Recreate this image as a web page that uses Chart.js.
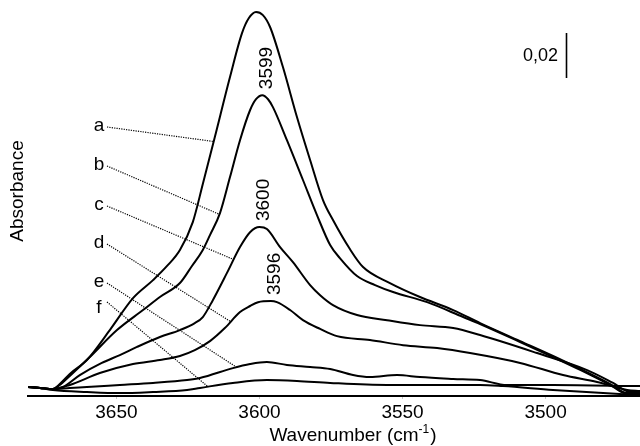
<!DOCTYPE html>
<html>
<head>
<meta charset="utf-8">
<title>OH stretching region</title>
<script src="https://cdn.jsdelivr.net/npm/chart.js@4.4.0/dist/chart.umd.min.js"></script>
<style>
  html, body { margin: 0; padding: 0; background: #fff; }
  #wrap { width: 640px; height: 446px; position: relative; }
</style>
</head>
<body>
<div id="wrap"><canvas id="spectra"></canvas></div>
<script>
// Wavenumber axis ticks (cm-1)
const xTicks = [3650, 3600, 3550, 3500];

// Spectra a-f: wavenumber (cm-1) and absorbance
const wnA  = [3680.9, 3676.7, 3672.2, 3669.8, 3666.3, 3660.3, 3652.3, 3644.2, 3637.2, 3632.3, 3627.8, 3623.3, 3619.8, 3615.6, 3610.3, 3606.1, 3603.7, 3601.2, 3598.8, 3596.3, 3591.8, 3586.9, 3582.3, 3577.8, 3574.3, 3568.4, 3563.8, 3554.4, 3543.9, 3532.3, 3522.9, 3508.9, 3497.4, 3487.9, 3477.4, 3471.5, 3467.0];
const absA = [0.0040, 0.0036, 0.0031, 0.0053, 0.0098, 0.0160, 0.0293, 0.0435, 0.0515, 0.0578, 0.0649, 0.0773, 0.0942, 0.1151, 0.1418, 0.1613, 0.1680, 0.1707, 0.1693, 0.1640, 0.1462, 0.1240, 0.1049, 0.0871, 0.0782, 0.0653, 0.0573, 0.0502, 0.0440, 0.0382, 0.0324, 0.0244, 0.0178, 0.0120, 0.0053, 0.0013, 0.0013];

const wnB  = [3680.9, 3676.7, 3672.2, 3669.8, 3666.3, 3659.3, 3649.8, 3640.7, 3634.8, 3627.8, 3623.6, 3619.8, 3617.3, 3613.8, 3610.3, 3606.8, 3603.3, 3601.2, 3599.0, 3597.0, 3595.3, 3590.4, 3584.8, 3579.9, 3575.3, 3571.9, 3565.9, 3559.6, 3553.3, 3541.4, 3528.8, 3522.9, 3508.9, 3497.4, 3487.9, 3477.4, 3471.5, 3467.0];
const absB = [0.0040, 0.0036, 0.0031, 0.0049, 0.0089, 0.0173, 0.0293, 0.0382, 0.0440, 0.0502, 0.0578, 0.0649, 0.0715, 0.0813, 0.0973, 0.1137, 0.1270, 0.1319, 0.1337, 0.1319, 0.1284, 0.1137, 0.0960, 0.0804, 0.0671, 0.0613, 0.0533, 0.0493, 0.0462, 0.0417, 0.0351, 0.0320, 0.0240, 0.0173, 0.0116, 0.0049, 0.0009, 0.0009];

const wnC  = [3680.9, 3676.7, 3672.2, 3668.7, 3662.8, 3655.1, 3648.8, 3642.8, 3634.8, 3627.8, 3622.6, 3619.8, 3616.3, 3611.4, 3606.8, 3603.3, 3600.0, 3597.4, 3592.8, 3588.3, 3582.3, 3578.8, 3574.3, 3565.9, 3555.4, 3543.9, 3532.3, 3522.9, 3503.0, 3485.5, 3476.4, 3470.5, 3467.0];
const absC = [0.0040, 0.0036, 0.0031, 0.0040, 0.0093, 0.0147, 0.0182, 0.0218, 0.0262, 0.0293, 0.0324, 0.0351, 0.0426, 0.0546, 0.0662, 0.0728, 0.0751, 0.0742, 0.0662, 0.0595, 0.0493, 0.0448, 0.0404, 0.0360, 0.0337, 0.0315, 0.0302, 0.0271, 0.0191, 0.0115, 0.0058, 0.0018, 0.0018];

const wnD  = [3680.9, 3676.7, 3672.2, 3666.3, 3655.8, 3644.2, 3634.8, 3627.8, 3622.6, 3617.3, 3612.1, 3606.8, 3603.3, 3600.5, 3596.0, 3593.9, 3589.3, 3584.8, 3578.8, 3572.9, 3561.4, 3549.8, 3537.9, 3526.4, 3508.9, 3493.9, 3482.0, 3471.5, 3467.0];
const absD = [0.0040, 0.0036, 0.0031, 0.0049, 0.0102, 0.0142, 0.0160, 0.0178, 0.0204, 0.0244, 0.0302, 0.0373, 0.0400, 0.0417, 0.0422, 0.0417, 0.0382, 0.0337, 0.0298, 0.0266, 0.0249, 0.0226, 0.0213, 0.0191, 0.0147, 0.0093, 0.0062, 0.0027, 0.0022];

const wnE  = [3680.9, 3676.7, 3672.2, 3666.3, 3660.3, 3648.8, 3637.2, 3625.3, 3620.8, 3609.3, 3603.3, 3597.4, 3590.4, 3582.3, 3575.3, 3567.3, 3561.4, 3551.9, 3543.9, 3532.3, 3522.9, 3513.5, 3497.4, 3467.0];
const absE = [0.0040, 0.0036, 0.0031, 0.0036, 0.0040, 0.0049, 0.0058, 0.0071, 0.0080, 0.0124, 0.0142, 0.0151, 0.0138, 0.0129, 0.0120, 0.0093, 0.0084, 0.0093, 0.0084, 0.0076, 0.0071, 0.0049, 0.0049, 0.0044];

const wnF  = [3680.9, 3676.7, 3672.2, 3660.3, 3648.8, 3637.2, 3625.3, 3620.8, 3609.3, 3597.4, 3586.9, 3575.3, 3555.4, 3522.9, 3514.9, 3497.4, 3479.9, 3467.0];
const absF = [0.0040, 0.0036, 0.0027, 0.0018, 0.0013, 0.0018, 0.0027, 0.0036, 0.0058, 0.0071, 0.0067, 0.0058, 0.0049, 0.0049, 0.0044, 0.0027, 0.0013, 0.0004];

const curveNames = ['a', 'b', 'c', 'd', 'e', 'f'];
// where each dotted leader meets its spectrum (cm-1)
const leaderEnds = [3616, 3614, 3609, 3610, 3608, 3618];
// band maxima of b, c and d (cm-1)
const peakLabels = ['3599', '3600', '3596'];
const scaleBar = 0.02;

const curves = curveNames.map((name, i) => ({
  name,
  wn: [wnA, wnB, wnC, wnD, wnE, wnF][i],
  abs: [absA, absB, absC, absD, absE, absF][i]
}));

const FONT_FAMILY = '"Liberation Sans", Arial, sans-serif';
const FONT = '19px ' + FONT_FAMILY;

// linear lookup of a spectrum at a given wavenumber
function absAt(wns, vals, wn) {
  for (let i = 0; i < wns.length - 1; i++) {
    if (wn <= wns[i] && wn >= wns[i + 1]) {
      const t = (wns[i] - wn) / (wns[i] - wns[i + 1]);
      return vals[i] + t * (vals[i + 1] - vals[i]);
    }
  }
  return vals[vals.length - 1];
}

// letters, leaders, band positions, scale bar and axis titles
const spectraLabels = {
  id: 'spectraLabels',
  afterDatasetsDraw(chart) {
    const { ctx, scales: { x, y } } = chart;
    ctx.save();
    ctx.font = FONT;
    ctx.fillStyle = '#000';
    ctx.textAlign = 'center';
    ctx.textBaseline = 'middle';

    const letterX = 99;
    const letterY = [126, 165, 205, 243, 282, 308];
    const startDy = [1, 1, 1, 1, 1, -6];
    curves.forEach((c, i) => {
      ctx.fillText(c.name, letterX, letterY[i]);
      const ex = x.getPixelForValue(leaderEnds[i]);
      const ey = y.getPixelForValue(absAt(c.wn, c.abs, leaderEnds[i]));
      ctx.save();
      ctx.strokeStyle = '#000';
      ctx.lineWidth = 1.2;
      ctx.setLineDash([1.2, 1.2]);
      ctx.beginPath();
      ctx.moveTo(letterX + 8, letterY[i] + startDy[i]);
      ctx.lineTo(ex, ey);
      ctx.stroke();
      ctx.restore();
    });

    // band maxima, written upwards above b, c and d
    peakLabels.forEach((txt, i) => {
      const c = curves[i + 1];
      const top = Math.max(...c.abs);
      const px = x.getPixelForValue(parseFloat(txt)) + 4;
      const py = y.getPixelForValue(top) - 6;
      ctx.save();
      ctx.translate(px, py);
      ctx.rotate(-Math.PI / 2);
      ctx.textAlign = 'left';
      ctx.fillText(txt, 0, 0);
      ctx.restore();
    });

    // absorbance scale bar
    const barLen = y.getPixelForValue(0) - y.getPixelForValue(scaleBar);
    ctx.save();
    ctx.strokeStyle = '#000';
    ctx.lineWidth = 1.6;
    ctx.beginPath();
    ctx.moveTo(566.5, 33);
    ctx.lineTo(566.5, 33 + barLen);
    ctx.stroke();
    ctx.restore();
    ctx.textAlign = 'right';
    ctx.font = '18px ' + FONT_FAMILY;
    ctx.fillText(String(scaleBar).replace('.', ','), 558, 56);
    ctx.font = FONT;

    // y title
    ctx.save();
    ctx.translate(18, 191);
    ctx.rotate(-Math.PI / 2);
    ctx.textAlign = 'center';
    ctx.fillText('Absorbance', 0, 0);
    ctx.restore();

    // x title with superscript
    const main = 'Wavenumber (cm';
    const sup = '-1';
    const tail = ')';
    const supFont = '12px ' + FONT_FAMILY;
    const wMain = ctx.measureText(main).width;
    const wTail = ctx.measureText(tail).width;
    ctx.font = supFont;
    const wSup = ctx.measureText(sup).width;
    const total = wMain + wSup + wTail + 1;
    let tx = 353 - total / 2;
    const ty = 436;
    ctx.textAlign = 'left';
    ctx.font = FONT;
    ctx.fillText(main, tx, ty);
    tx += wMain;
    ctx.font = supFont;
    ctx.fillText(sup, tx, ty - 6);
    tx += wSup + 1;
    ctx.font = FONT;
    ctx.fillText(tail, tx, ty);
    ctx.restore();
  }
};

const chart = new Chart(document.getElementById('spectra'), {
  type: 'line',
  data: {
    datasets: curves.map(c => ({
      label: c.name,
      data: c.wn.map((w, i) => ({ x: w, y: c.abs[i] })),
      borderColor: '#000',
      borderWidth: 2,
      pointRadius: 0,
      fill: false,
      cubicInterpolationMode: 'monotone'
    }))
  },
  options: {
    responsive: true,
    maintainAspectRatio: false,
    animation: false,
    layout: { padding: { left: 28, right: 0, top: 0, bottom: 0 } },
    plugins: { legend: { display: false }, tooltip: { enabled: false } },
    scales: {
      x: {
        type: 'linear',
        reverse: true,
        min: 3467.0,
        max: 3680.9,
        afterBuildTicks: s => { s.ticks = xTicks.map(v => ({ value: v })); },
        afterFit: s => { s.height = 50; },
        grid: { drawOnChartArea: false, drawTicks: true, tickLength: 3, color: '#c8c8c8' },
        border: { display: true, color: '#000', width: 2 },
        ticks: {
          color: '#000',
          autoSkip: false,
          maxRotation: 0,
          padding: 2,
          font: { family: FONT_FAMILY, size: 19 },
          callback: v => String(v)
        }
      },
      y: {
        display: false,
        min: 0,
        max: 0.176
      }
    }
  },
  plugins: [spectraLabels]
});
</script>
</body>
</html>
